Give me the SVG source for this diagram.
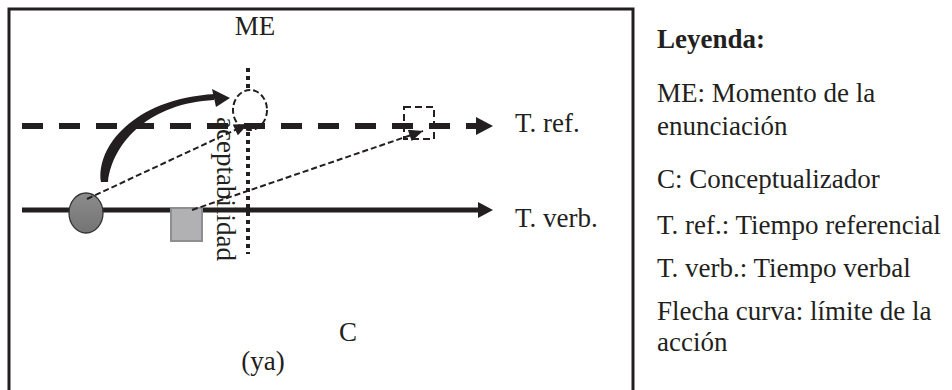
<svg xmlns="http://www.w3.org/2000/svg" width="952" height="390" viewBox="0 0 952 390">
<style>
.lbl{font-family:"Liberation Serif","Times New Roman",serif;font-size:27px;fill:#231f20}
.leg{font-family:"Liberation Serif","Times New Roman",serif;font-size:27px;fill:#231f20}
.dash{fill:none;stroke:#231f20;stroke-width:2;stroke-dasharray:6 3}
</style>
<defs>
<marker id="ah" viewBox="0 0 14 12" refX="14" refY="6" markerWidth="15" markerHeight="12" markerUnits="userSpaceOnUse" orient="auto">
<path d="M0,0 L14,6 L0,12 Z" fill="#231f20"/>
</marker>
<linearGradient id="gg" x1="0" y1="0" x2="0" y2="1">
<stop offset="0" stop-color="#8c8c8c"/>
<stop offset="1" stop-color="#747474"/>
</linearGradient>
</defs>
<rect x="0" y="0" width="952" height="390" fill="#ffffff"/>
<rect id="frame" x="9" y="9" width="624" height="400" fill="none" stroke="#231f20" stroke-width="3"/>

<g id="me-axis">
<line x1="248" y1="68" x2="248" y2="254" stroke="#231f20" stroke-width="4" stroke-dasharray="4 4"/>
<ellipse cx="250" cy="110" rx="17" ry="20" fill="#ffffff" stroke="#231f20" stroke-width="2" stroke-dasharray="6 3"/>
</g>

<g id="connectors">
<g id="tref-line">
<line x1="22" y1="126" x2="478" y2="126" stroke="#231f20" stroke-width="6" stroke-dasharray="21 16"/>
<polygon points="476,117 493,126 476,135" fill="#231f20"/>
</g>
<g id="tverb-line">
<line x1="22" y1="210" x2="480" y2="210" stroke="#231f20" stroke-width="5"/>
<polygon points="478,202 493,210 478,218" fill="#231f20"/>
</g>
</g>

<g id="tref-point">
<rect x="404" y="107" width="30" height="32" fill="none" stroke="#231f20" stroke-width="2" stroke-dasharray="7 4"/>
</g>
<g id="event-circle">
<ellipse cx="86" cy="213" rx="17" ry="20" fill="url(#gg)" stroke="#333333" stroke-width="1.3"/>
</g>
<g id="event-square">
<rect x="171" y="208" width="31" height="33" fill="#b1b1b4" stroke="#8e8e90" stroke-width="2"/>
</g>

<g id="arrows">
<line class="dash" x1="87" y1="199" x2="248" y2="124" marker-end="url(#ah)"/>
<line class="dash" x1="192" y1="210" x2="423" y2="131" marker-end="url(#ah)"/>
<path id="curve" d="M101,182 C96,148 132,99 215,94 L214,100 C152,103 113,140 108,182 Z" fill="#231f20"/>
<polygon points="212,89 230,98 216,107" fill="#231f20"/>
</g>

<g id="labels">
<text class="lbl" x="255" y="35" text-anchor="middle">ME</text>
<text class="lbl" x="515" y="132">T. ref.</text>
<text class="lbl" x="515" y="227">T. verb.</text>
<text class="lbl" x="348" y="341" text-anchor="middle">C</text>
<text class="lbl" x="263" y="370" text-anchor="middle">(ya)</text>
<text class="lbl" transform="translate(217,117) rotate(90)">aceptabilidad</text>
</g>

<g id="legend">
<text class="leg" x="657" y="48" font-weight="bold">Leyenda:</text>
<text class="leg" x="657" y="102">ME: Momento de la</text>
<text class="leg" x="657" y="135">enunciación</text>
<text class="leg" x="657" y="188">C: Conceptualizador</text>
<text class="leg" x="657" y="234">T. ref.: Tiempo referencial</text>
<text class="leg" x="657" y="277">T. verb.: Tiempo verbal</text>
<text class="leg" x="657" y="320">Flecha curva: límite de la</text>
<text class="leg" x="657" y="351">acción</text>
</g>
</svg>
